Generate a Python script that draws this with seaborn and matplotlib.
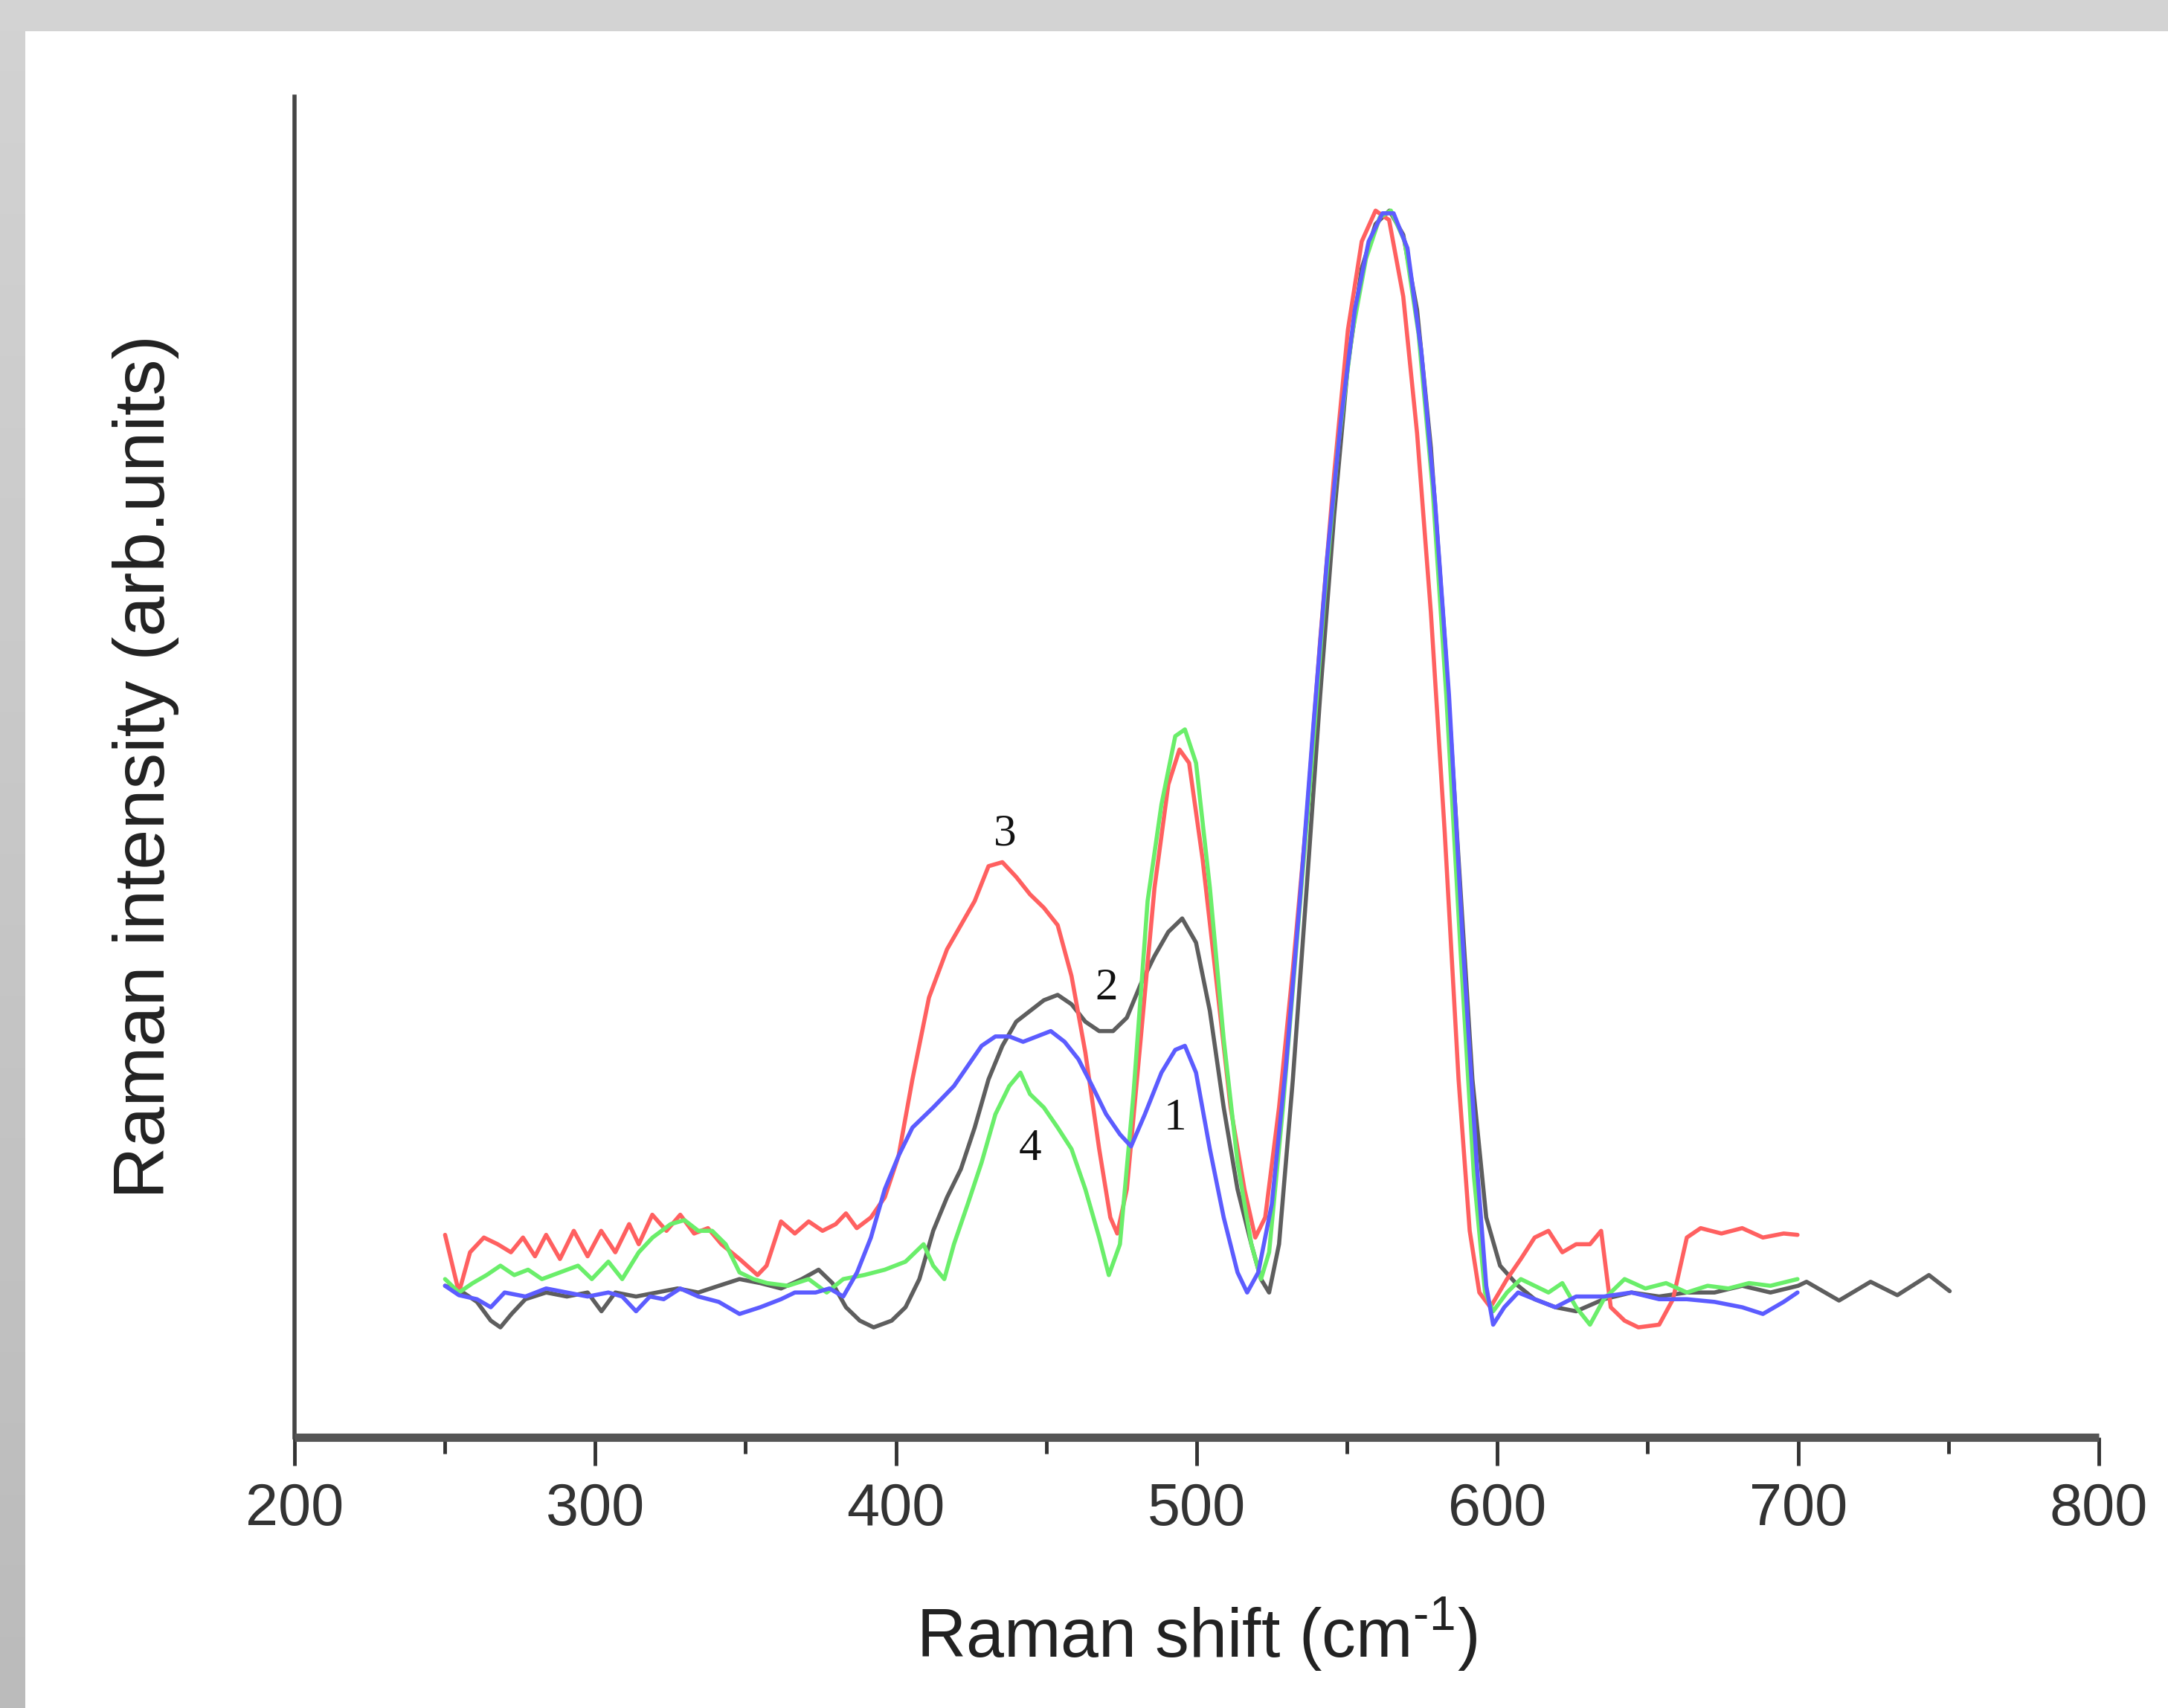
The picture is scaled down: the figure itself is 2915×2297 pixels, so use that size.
import numpy as np
import matplotlib
matplotlib.use("Agg")
import matplotlib.pyplot as plt
import seaborn as sns

# Raman shift (cm-1) and intensity (arb. units, axis runs 0..100)
shift_1 = [250.1, 254.7, 260.7, 265.3, 269.9, 276.8, 283.7, 290.6, 297.5, 304.4, 309.0, 313.6,
           318.2, 322.8, 328.3, 334.3, 341.1, 348.0, 354.9, 361.8, 366.4, 373.3, 377.9, 382.5,
           387.1, 391.7, 396.3, 400.9, 405.5, 412.4, 419.3, 423.9, 428.5, 433.1, 437.7, 442.3,
           446.9, 451.5, 456.1, 460.7, 465.3, 469.9, 474.5, 478.2, 482.8, 488.3, 492.9, 496.1,
           499.8, 504.4, 509.0, 513.6, 516.8, 520.5, 525.0, 529.7, 534.3, 538.9, 543.4, 548.0,
           552.6, 557.2, 561.8, 565.5, 570.1, 574.7, 579.3, 583.9, 588.5, 593.1, 596.3, 598.6,
           602.3, 606.9, 612.4, 619.3, 626.2, 635.4, 644.6, 653.8, 663.0, 672.2, 681.4, 688.3,
           695.2, 699.8]
int_1 = [11.3, 10.6, 10.3, 9.7, 10.8, 10.5, 11.1, 10.8, 10.5, 10.8, 10.5, 9.4,
         10.5, 10.3, 11.1, 10.5, 10.1, 9.2, 9.7, 10.3, 10.8, 10.8, 11.1, 10.5,
         12.3, 14.9, 18.5, 21.0, 23.1, 24.6, 26.2, 27.7, 29.2, 29.9, 29.9, 29.5,
         29.9, 30.3, 29.5, 28.2, 26.2, 24.1, 22.6, 21.7, 24.1, 27.2, 28.9, 29.2,
         27.2, 21.5, 16.4, 12.3, 10.8, 12.3, 17.4, 27.7, 40.0, 53.3, 65.6, 75.9,
         84.1, 89.2, 91.3, 91.3, 88.7, 81.0, 69.7, 55.4, 36.9, 20.5, 11.3, 8.4,
         9.7, 10.8, 10.3, 9.7, 10.5, 10.5, 10.8, 10.3, 10.3, 10.1, 9.7, 9.2,
         10.1, 10.8]

shift_2 = [250.1, 256.1, 260.7, 265.3, 268.5, 272.2, 276.8, 283.7, 290.6, 297.5, 302.1, 306.7,
           313.6, 320.5, 327.4, 334.3, 341.1, 348.0, 354.9, 361.8, 368.7, 374.3, 378.9, 383.4,
           388.0, 392.6, 398.6, 403.2, 407.8, 412.4, 417.0, 421.6, 426.2, 430.8, 435.4, 440.0,
           444.6, 449.2, 453.8, 458.4, 463.0, 467.6, 472.2, 476.8, 481.4, 486.0, 490.6, 495.2,
           499.8, 504.4, 509.0, 513.6, 518.2, 521.4, 524.1, 527.4, 532.0, 536.6, 541.1, 545.7,
           550.3, 554.9, 559.5, 564.1, 568.7, 573.3, 577.9, 582.5, 587.1, 591.7, 596.3, 600.9,
           606.9, 612.4, 619.3, 626.2, 635.4, 644.6, 653.8, 663.0, 672.2, 681.4, 690.8, 700.0,
           702.8, 713.6, 724.1, 733.0, 743.5, 750.4]
int_2 = [11.3, 10.8, 10.1, 8.7, 8.2, 9.2, 10.3, 10.8, 10.5, 10.8, 9.4, 10.8,
         10.5, 10.8, 11.1, 10.8, 11.3, 11.8, 11.5, 11.1, 11.8, 12.5, 11.5, 9.7,
         8.7, 8.2, 8.7, 9.7, 11.8, 15.4, 17.9, 20.0, 23.1, 26.7, 29.2, 31.0,
         31.8, 32.6, 33.0, 32.3, 31.0, 30.3, 30.3, 31.3, 33.8, 35.9, 37.7, 38.7,
         36.9, 31.8, 24.6, 18.5, 14.4, 11.8, 10.8, 14.4, 26.7, 41.0, 55.4, 68.7,
         80.0, 87.2, 90.5, 91.5, 89.7, 84.1, 73.8, 59.5, 43.1, 26.7, 16.4, 12.8,
         11.3, 10.3, 9.7, 9.4, 10.3, 10.8, 10.5, 10.8, 10.8, 11.3, 10.8, 11.3,
         11.6, 10.2, 11.6, 10.6, 12.1, 10.9]

shift_3 = [250.1, 254.7, 258.4, 263.0, 267.6, 272.0, 276.0, 280.0, 283.7, 288.3, 292.9, 297.5,
           302.0, 306.7, 311.3, 314.5, 319.0, 323.7, 328.3, 332.9, 337.5, 342.0, 348.0, 354.0,
           357.0, 361.8, 366.4, 371.0, 375.6, 380.0, 383.4, 387.0, 391.7, 396.3, 400.9, 405.5,
           411.0, 417.0, 421.6, 426.2, 430.8, 435.4, 440.0, 444.6, 449.2, 453.8, 458.4, 463.0,
           467.6, 471.3, 473.6, 476.8, 481.4, 486.0, 490.6, 494.3, 497.5, 502.0, 506.7, 511.3,
           515.9, 519.5, 522.8, 527.4, 532.0, 536.6, 541.1, 545.7, 550.3, 554.9, 559.5, 564.0,
           568.7, 573.3, 577.9, 582.5, 587.1, 590.8, 594.0, 597.7, 603.2, 607.8, 612.4, 617.0,
           621.6, 626.2, 630.8, 634.5, 637.7, 642.3, 646.9, 653.8, 658.4, 663.0, 667.6, 674.5,
           681.4, 688.3, 695.2, 699.8]
int_3 = [15.1, 10.8, 13.8, 14.9, 14.4, 13.8, 14.9, 13.5, 15.1, 13.3, 15.4, 13.5,
         15.4, 13.8, 15.9, 14.4, 16.6, 15.4, 16.6, 15.2, 15.6, 14.4, 13.3, 12.1,
         12.8, 16.1, 15.2, 16.1, 15.4, 15.9, 16.7, 15.6, 16.4, 17.9, 21.0, 26.7,
         32.8, 36.4, 38.2, 40.0, 42.6, 42.9, 41.8, 40.5, 39.5, 38.2, 34.4, 28.7,
         21.5, 16.4, 15.2, 18.5, 29.7, 41.0, 48.7, 51.3, 50.3, 43.1, 33.8, 24.6,
         18.5, 14.9, 16.4, 24.6, 34.9, 46.2, 59.5, 71.8, 82.6, 89.2, 91.5, 90.8,
         85.1, 74.9, 61.5, 45.1, 26.7, 15.4, 10.8, 9.7, 11.8, 13.3, 14.9, 15.4,
         13.8, 14.4, 14.4, 15.4, 9.7, 8.7, 8.2, 8.4, 10.3, 14.9, 15.6, 15.2,
         15.6, 14.9, 15.2, 15.1]

shift_4 = [250.1, 254.7, 259.3, 263.9, 268.5, 273.1, 277.7, 282.3, 288.3, 294.3, 298.9, 304.4,
           309.0, 314.5, 319.1, 325.1, 329.7, 334.3, 338.9, 343.4, 348.0, 352.6, 357.2, 364.1,
           371.0, 377.0, 382.5, 389.4, 396.3, 403.2, 409.2, 412.4, 416.1, 419.3, 423.9, 428.5,
           433.1, 437.7, 441.4, 444.6, 449.2, 453.8, 458.4, 463.0, 467.6, 470.8, 474.5, 479.0,
           483.7, 488.3, 492.9, 496.1, 499.8, 504.4, 509.0, 513.6, 518.2, 521.4, 524.1, 528.7,
           533.3, 537.9, 542.5, 547.1, 551.7, 556.3, 560.9, 564.6, 569.2, 573.8, 578.4, 583.0,
           587.6, 592.2, 595.9, 598.6, 603.2, 607.8, 612.4, 617.0, 621.6, 626.2, 630.8, 635.4,
           642.3, 649.2, 656.1, 663.0, 669.9, 676.8, 683.7, 690.8, 699.8]
int_4 = [11.8, 10.8, 11.5, 12.1, 12.8, 12.1, 12.5, 11.8, 12.3, 12.8, 11.8, 13.1,
         11.8, 13.8, 14.9, 15.9, 16.2, 15.4, 15.4, 14.4, 12.3, 11.8, 11.5, 11.3,
         11.8, 10.8, 11.8, 12.1, 12.5, 13.1, 14.4, 12.8, 11.8, 14.4, 17.4, 20.5,
         24.1, 26.2, 27.2, 25.6, 24.6, 23.1, 21.5, 18.5, 14.9, 12.1, 14.4, 25.6,
         40.0, 47.2, 52.3, 52.8, 50.3, 41.0, 29.7, 20.5, 14.4, 11.8, 13.8, 24.6,
         36.9, 49.2, 62.6, 74.0, 82.3, 87.9, 91.0, 91.5, 89.2, 82.3, 71.0, 55.4,
         36.9, 19.5, 10.8, 9.4, 10.8, 11.8, 11.3, 10.8, 11.5, 9.7, 8.4, 10.3,
         11.8, 11.1, 11.5, 10.8, 11.3, 11.1, 11.5, 11.3, 11.8]

# curve numbers written next to the curves
label_text = ["3", "2", "1", "4"]
label_x = [436.3, 469.9, 492.9, 444.6]
label_y = [45.0, 33.5, 23.8, 21.5]

x_ticks = [200, 300, 400, 500, 600, 700, 800]
x_minor = [250, 350, 450, 550, 650, 750]

sns.set_style("ticks")
plt.rcParams["font.family"] = ["Liberation Sans", "DejaVu Sans"]
plt.rcParams["mathtext.fontset"] = "custom"
plt.rcParams["mathtext.rm"] = "Liberation Sans"

fig = plt.figure(figsize=(29.15, 22.97), dpi=100)
fig.patch.set_facecolor("white")

# grey frame of the scanned page
grad = np.linspace(211, 187, 2297)[:, None, None] * np.ones((1, 34, 3)) / 255.0
fig.figimage(grad, xo=0, yo=0, origin="upper", zorder=0)
top = np.full((42, 2915, 3), 211 / 255.0)
fig.figimage(top, xo=0, yo=2297 - 42, origin="upper", zorder=0)

ax = fig.add_axes([0.1358, 0.1585, 0.8323, 0.7849])
ax.set_facecolor("white")

lw = 4
sns.lineplot(x=shift_2, y=int_2, ax=ax, color="#5e5e5e", linewidth=lw, sort=False)
sns.lineplot(x=shift_3, y=int_3, ax=ax, color="#ff6060", linewidth=lw, sort=False)
sns.lineplot(x=shift_4, y=int_4, ax=ax, color="#6aee6a", linewidth=lw, sort=False)
sns.lineplot(x=shift_1, y=int_1, ax=ax, color="#5c5cff", linewidth=lw, sort=False)

for t, lx, ly in zip(label_text, label_x, label_y):
    ax.text(lx, ly, t, family="Liberation Serif", fontsize=44, color="#111111",
            ha="center", va="center")

ax.set_xlim(200, 800)
ax.set_ylim(0, 100)
ax.set_xticks(x_ticks)
ax.set_xticks(x_minor, minor=True)
ax.set_yticks([])

sns.despine(ax=ax)
ax.spines["left"].set_linewidth(4)
ax.spines["left"].set_color("#444444")
ax.spines["bottom"].set_linewidth(8)
ax.spines["bottom"].set_color("#555555")
ax.spines["bottom"].set_capstyle("butt")

ax.tick_params(axis="x", which="major", length=27, width=3.5, color="#333333",
               direction="out", pad=16, labelsize=57, labelcolor="#333333")
ax.tick_params(axis="x", which="minor", length=16, width=3.5, color="#333333",
               direction="out")

ax.set_xlabel(r"Raman shift (cm$^{\text{-}1}$)", fontsize=66, color="#222222")
ax.set_ylabel("Raman intensity (arb.units)", fontsize=70, color="#222222")
ax.xaxis.set_label_coords(0.5, -0.118)
ax.yaxis.set_label_coords(-0.064, 0.5)

fig.savefig("out.png", dpi=100)
